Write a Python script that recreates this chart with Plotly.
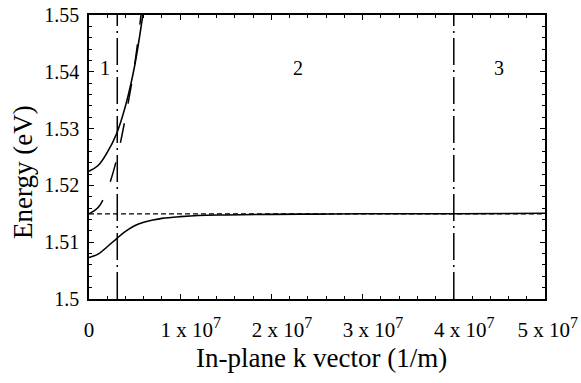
import plotly.graph_objects as go

# ---- data ----
k_low = [0, 1e6, 2e6, 3e6, 4e6, 5e6, 6e6, 7e6, 8e6, 1e7, 1.2e7, 1.5e7, 2e7, 2.5e7, 3e7, 4e7, 5e7]
E_low = [1.5073, 1.5079, 1.5092, 1.5106, 1.5119, 1.5129, 1.5135, 1.5139, 1.5142, 1.5145,
         1.5147, 1.5148, 1.5149, 1.51495, 1.5150, 1.5150, 1.5151]

k_up = [0, 1e6, 2e6, 3e6, 4e6, 5e6, 5.9e6]
E_up = [1.5225, 1.5235, 1.5258, 1.5290, 1.5340, 1.5410, 1.5500]

k_dash = [0, 1e6, 2e6, 3e6, 4e6, 5e6, 5.7e6]
E_dash = [1.5150, 1.5161, 1.5192, 1.5244, 1.5320, 1.5412, 1.5500]

k_flat = [0, 5e7]
E_flat = [1.515, 1.515]

k_bound = [3.1e6, 4e7]
E_range = [1.5, 1.55]

region_labels = ["1", "2", "3"]
region_k = [1.75e6, 2.29e7, 4.5e7]
region_E = [1.5407, 1.5407, 1.5407]

x_tickvals = [0, 1e7, 2e7, 3e7, 4e7, 5e7]
x_tick_mant = ["1", "2", "3", "4", "5"]
y_tickvals = [1.5, 1.51, 1.52, 1.53, 1.54, 1.55]
y_ticktext = ["1.5", "1.51", "1.52", "1.53", "1.54", "1.55"]

FONT = "Liberation Serif"

x_pads = [4, 4, 4, 4, 1]
x_ticktext = ["0"] + ["&nbsp;" * p + m + " x 10<sup><span style='font-size:16px'>7</span></sup>"
                      for p, m in zip(x_pads, x_tick_mant)]

fig = go.Figure()

fig.add_trace(go.Scatter(x=k_flat, y=E_flat, mode="lines",
                         line=dict(color="black", width=1.2, dash="5px,3px")))
fig.add_trace(go.Scatter(x=k_dash, y=E_dash, mode="lines", line_shape="spline",
                         line=dict(color="black", width=1.5, dash="20px,20px")))
fig.add_trace(go.Scatter(x=k_low, y=E_low, mode="lines", line_shape="spline",
                         line=dict(color="black", width=1.6)))
fig.add_trace(go.Scatter(x=k_up, y=E_up, mode="lines", line_shape="spline",
                         line=dict(color="black", width=1.6)))
for kb in k_bound:
    fig.add_trace(go.Scatter(x=[kb, kb], y=E_range, mode="lines",
                             line=dict(color="black", width=1.5, dash="27px,5px,2px,5px")))

for t, xk, ye in zip(region_labels, region_k, region_E):
    fig.add_annotation(x=xk, y=ye, text=t, showarrow=False,
                       font=dict(family=FONT, size=20, color="black"))

fig.add_annotation(xref="paper", yref="paper", x=0.509, y=-0.208, text="In-plane k vector (1/m)",
                   showarrow=False, yanchor="middle", xanchor="center",
                   font=dict(family=FONT, size=27, color="black"))
fig.add_annotation(xref="paper", yref="paper", x=-0.145, y=0.447, text="Energy (eV)",
                   showarrow=False, textangle=-90, yanchor="middle", xanchor="center",
                   font=dict(family=FONT, size=27, color="black"))

fig.update_layout(
    width=581, height=383,
    margin=dict(l=89, r=36, t=15, b=84),
    paper_bgcolor="white", plot_bgcolor="white",
    showlegend=False,
    font=dict(family=FONT, color="black"),
)
fig.update_xaxes(range=[0, 5e7], tickvals=x_tickvals, ticktext=x_ticktext,
                 ticks="inside", ticklen=5, tickcolor="black", tickwidth=1,
                 showline=True, linecolor="black", linewidth=1.5, mirror="allticks",
                 showgrid=False, zeroline=False, automargin=False, ticklabeloverflow="allow",
                 minor=dict(ticks="inside", ticklen=3, dtick=2e6, tickcolor="black", showgrid=False),
                 tickfont=dict(family=FONT, size=21, color="black"), ticklabelstandoff=11)
fig.update_yaxes(range=[1.5, 1.55], tickvals=y_tickvals, ticktext=y_ticktext,
                 ticks="inside", ticklen=5, tickcolor="black", tickwidth=1,
                 showline=True, linecolor="black", linewidth=1.5, mirror="allticks",
                 showgrid=False, zeroline=False, automargin=False, ticklabeloverflow="allow",
                 minor=dict(ticks="inside", ticklen=3, dtick=0.002, tickcolor="black", showgrid=False),
                 tickfont=dict(family=FONT, size=20, color="black"), ticklabelstandoff=4)

fig.write_html("out.html")
